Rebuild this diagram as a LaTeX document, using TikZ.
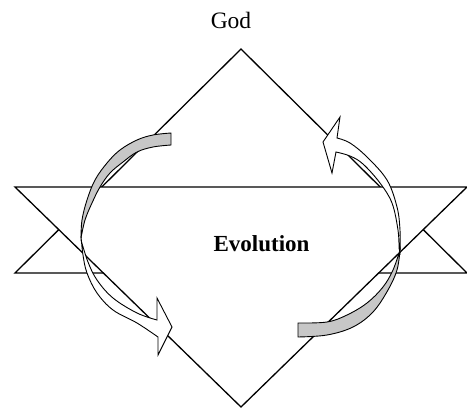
\documentclass[tikz,border=0pt]{standalone}
\usepackage{fontspec}
\setmainfont{Liberation Serif}
\begin{document}
\begin{tikzpicture}[x=1pt,y=-1pt,
  triline/.style={draw=black,line width=1.3pt,line join=miter},
  backface/.style={draw=black,fill=black!22,line width=0.9pt,line join=miter},
  frontface/.style={draw=black,fill=white,line width=0.9pt,line join=miter},
  label/.style={inner sep=0pt,anchor=base}]
\useasboundingbox (0,0) rectangle (467,410);
% upward triangle (behind)
\draw[triline] (241,49) -- (467,273) -- (15,273) -- cycle;
% downward triangle (in front, white)
\filldraw[triline,fill=white] (15,187) -- (467,187) -- (241,407) -- cycle;
% left arrow: back face
\path[backface] (171,133) -- (171,145)
  -- plot[smooth,tension=0.6] coordinates {(171,145) (153,147) (137,152) (123,162) (110,173) (100,187) (92,203) (85,220) (81,238)}
  -- plot[smooth,tension=0.6] coordinates {(81,238) (82,220) (87,200) (95,180) (107,163) (120,150) (137,140) (153,135) (171,133)}
  -- cycle;
% left arrow: front face with head
\path[frontface] (81,236)
  -- plot[smooth,tension=0.6] coordinates {(81,236) (83,255) (87,273) (97,293) (113,310) (137,323) (158,337)}
  -- (158,355) -- (172,327) -- (157,298) -- (157,320)
  -- plot[smooth,tension=0.6] coordinates {(157,320) (137,313) (113,298) (97,280) (88,262) (81,240)}
  -- cycle;
% right arrow: back face
\path[backface] (298,323) -- (298,337)
  -- plot[smooth,tension=0.6] coordinates {(298,337) (327,335) (353,327) (373,312) (388,290) (397,270) (400,250)}
  -- plot[smooth,tension=0.6] coordinates {(400,250) (393,270) (383,287) (367,303) (347,315) (327,322) (298,323)}
  -- cycle;
% right arrow: front face with head
\path[frontface] (400,252)
  -- plot[smooth,tension=0.6] coordinates {(400,252) (400,230) (397,207) (387,180) (367,157) (350,143) (337,138)}
  -- (340,117) -- (323,142) -- (332,173) -- (336,152)
  -- plot[smooth,tension=0.6] coordinates {(336,152) (350,156) (363,164) (380,183) (392,203) (398,230) (399,248)}
  -- cycle;
% labels
\node[label,font=\fontsize{23.5}{28}\selectfont] (god) at (231,28) {God};
\node[label,font=\bfseries\fontsize{23}{28}\selectfont] (evo) at (261.5,251.7) {Evolution};
\end{tikzpicture}
\end{document}
